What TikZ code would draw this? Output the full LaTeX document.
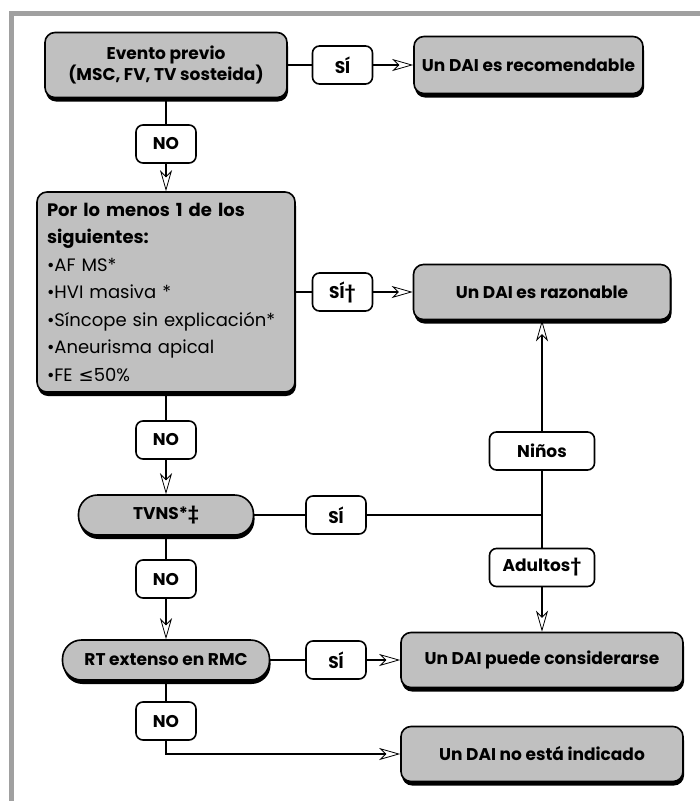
\documentclass[tikz,border=0pt]{standalone}
\usepackage{fontspec}
\setmainfont{Poppins}
\newfontfamily\simbolo{DejaVu Sans}
\usetikzlibrary{arrows.meta,shadows}
\definecolor{cajagris}{HTML}{C0C0C0}
\definecolor{marcogris}{HTML}{A0A0A0}
\newcommand{\letra}{\fontsize{17}{21}\selectfont}
\tikzset{
  paso/.style={draw, line width=1.6pt, fill=cajagris, rounded corners=10pt, font=\letra\bfseries, align=center, inner sep=6pt,
    drop shadow={shadow xshift=1pt, shadow yshift=-4pt, fill=black, opacity=1}},
  pastilla/.style={paso, rounded corners=19pt, minimum height=40pt},
  resp/.style={draw, line width=1.6pt, fill=white, rounded corners=7pt, minimum width=60pt, minimum height=38pt, font=\letra\bfseries},
  linea/.style={line width=1.8pt},
  flecha/.style={linea, -{Stealth[open, length=21pt, width=12pt, inset=6pt, line width=0.8pt]}},
}

\begin{document}
\begin{tikzpicture}[x=1pt, y=1pt]
\useasboundingbox (0,0) rectangle (700,-801);
% marco
\draw[marcogris, line width=5pt] (11,-801) -- (11,-13) -- (700,-13);
% pasos
\node[paso, minimum width=242pt, minimum height=65pt] (evento) at (166,-65) {Evento previo\\(MSC, FV, TV sosteida)};
\node[paso, minimum width=229pt, minimum height=57pt] (recom) at (528.5,-65) {Un DAI es recomendable};
\node[paso, minimum width=258pt, minimum height=200pt, text width=238pt, align=left, inner sep=10pt,
  font=\fontsize{18}{27.5}\selectfont] (crit) at (166,-292)
  {{\bfseries Por lo menos 1 de los\\siguientes:}\\%
   •AF MS*\\•HVI masiva *\\•Síncope sin explicación*\\•Aneurisma apical\\•FE {\simbolo≤}50\%};
\node[paso, minimum width=257pt, minimum height=55pt] (razon) at (542,-292) {Un DAI es razonable};
\node[pastilla, minimum width=175pt] (tvns) at (166,-515) {TVNS*‡};
\node[pastilla, minimum width=207pt] (rmc) at (166,-660) {RT extenso en RMC};
\node[paso, minimum width=282pt, minimum height=55pt] (puede) at (542,-660) {Un DAI puede considerarse};
\node[paso, minimum width=282pt, minimum height=55pt] (noind) at (542,-754) {Un DAI no está indicado};
% respuestas
\node[resp] (si1) at (342.5,-65) {SÍ};
\node[resp] (no1) at (166,-144) {NO};
\node[resp] (si2) at (342.5,-292) {SÍ†};
\node[resp] (no2) at (166,-440) {NO};
\node[resp] (si3) at (336,-515) {SÍ};
\node[resp] (no3) at (166,-579) {NO};
\node[resp] (si4) at (336,-660) {SÍ};
\node[resp] (no4) at (166,-721) {NO};
\node[resp, minimum width=105pt] (ninos) at (542,-451) {Niños};
\node[resp, minimum width=105pt] (adult) at (542,-567.5) {Adultos†};
\coordinate (cruce) at (542,-515);
% conectores
\draw[linea] (evento) -- (si1);
\draw[flecha] (si1) -- (recom);
\draw[linea] (evento) -- (no1);
\draw[flecha] (no1) -- (crit);
\draw[linea] (crit) -- (si2);
\draw[flecha] (si2) -- (razon);
\draw[linea] (crit) -- (no2);
\draw[flecha] (no2) -- (tvns);
\draw[linea] (tvns) -- (si3);
\draw[linea] (si3) -- (cruce);
\draw[linea] (ninos) -- (adult);
\draw[flecha] (ninos) -- (razon);
\draw[flecha] (adult) -- (puede);
\draw[linea] (tvns) -- (no3);
\draw[flecha] (no3) -- (rmc);
\draw[linea] (rmc) -- (si4);
\draw[flecha] (si4) -- (puede);
\draw[linea] (rmc) -- (no4);
\draw[flecha] (no4) |- (noind);
\end{tikzpicture}
\end{document}
